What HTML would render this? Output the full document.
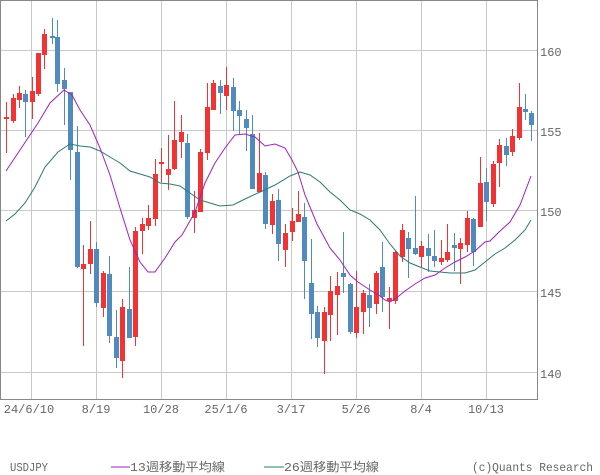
<!DOCTYPE html>
<html><head><meta charset="utf-8"><style>
body{margin:0;background:#fff;}
svg{display:block;font-family:"Liberation Mono","Noto Sans CJK JP",monospace;}
</style></head><body>
<svg id="s" width="600" height="475" xmlns="http://www.w3.org/2000/svg">
<rect x="0" y="0" width="600" height="475" fill="#fff"/>
<g id="grid" stroke="#c8c8c8" stroke-width="1"></g>
<rect x="0.5" y="0.5" width="537" height="399" fill="none" stroke="#888" stroke-width="1"/>
<g id="c"></g>
<polyline id="m26" fill="none" stroke="#2a7a70" stroke-width="1"/>
<polyline id="m13" fill="none" stroke="#a020c0" stroke-width="1"/>
<g font-size="12" fill="#666">
<text x="540" y="56">160</text><text x="540" y="136">155</text><text x="540" y="216">150</text><text x="540" y="297">145</text><text x="540" y="378">140</text>
<g text-anchor="middle">
<text x="29" y="413">24/6/10</text><text x="96" y="413">8/19</text><text x="161" y="413">10/28</text><text x="226" y="413">25/1/6</text><text x="291" y="413">3/17</text><text x="356" y="413">5/26</text><text x="421" y="413">8/4</text><text x="486" y="413">10/13</text>
</g>
<text x="10" y="471" textLength="38" lengthAdjust="spacingAndGlyphs">USDJPY</text>
<line x1="111" y1="467" x2="130" y2="467" stroke="#a020c0"/><text x="130" y="471" textLength="95" lengthAdjust="spacingAndGlyphs">13週移動平均線</text>
<line x1="264" y1="467" x2="284" y2="467" stroke="#2a7a70"/><text x="284" y="471" textLength="95" lengthAdjust="spacingAndGlyphs">26週移動平均線</text>
<text x="472" y="471" textLength="121" lengthAdjust="spacingAndGlyphs">(c)Quants Research</text>
</g>
</svg>
<script>
var g=document.getElementById('grid'),h='';
[31,96,161,226,291,356,421,486].forEach(function(x){h+='<line x1="'+(x+.5)+'" y1="0" x2="'+(x+.5)+'" y2="399"/>';});
[50,130,210,291,372].forEach(function(y){h+='<line x1="0" y1="'+(y+.5)+'" x2="537" y2="'+(y+.5)+'"/>';});
g.innerHTML=h;
var d=[[6,'r',117,119,102,153],[12.5,'r',98,121,94,123],[18.5,'r',93,100,86,108],[25,'b',94,102,90,137],[31.5,'r',91,102,77,119],[38,'r',53,94,53,96],[44,'r',34,55,29,69],[51.5,'b',36,37,18,44],[57,'b',37,84,20,92],[64,'b',80,89,68,125],[70,'b',92,150,92,180],[77,'b',152,267,126,268],[83,'r',264,269,245,346],[90,'r',249,264,221,274],[96,'b',249,303,242,307],[103,'r',273,308,271,317],[109,'b',274,336,256,343],[116,'b',337,358,310,368],[122,'r',307,361,299,378],[129,'b',309,338,267,338],[135,'r',231,337,227,346],[142,'r',224,231,218,254],[148,'r',218,226,205,230],[155,'r',174,219,159,226],[161,'r',162,163,148,182],[168,'r',169,175,135,190],[174,'r',140,169,101,170],[181,'r',132,142,115,158],[187,'b',143,217,134,219],[194,'r',210,218,191,233],[200,'r',152,212,149,212],[207,'r',107,153,83,160],[213,'r',83,110,80,110],[220,'b',86,93,80,114],[226,'r',85,96,67,110],[233,'b',87,111,78,131],[239,'b',110,116,101,134],[246,'b',119,128,110,151],[252,'b',134,189,115,189],[259,'r',173,192,133,192],[265,'b',175,224,172,229],[272,'r',201,225,194,234],[278,'b',200,244,189,261],[285,'r',233,250,224,267],[292,'r',221,232,208,241],[298,'r',214,222,191,222],[304,'b',217,261,203,299],[311,'b',283,314,239,339],[317,'b',312,338,306,347],[324,'r',312,341,307,374],[330,'r',291,315,276,341],[337,'r',286,295,272,335],[343,'b',273,277,232,293],[350,'b',284,332,283,334],[356,'r',307,333,271,338],[363,'r',293,312,290,334],[369,'b',295,308,284,327],[376,'r',273,304,271,314],[382,'b',267,297,242,312],[389,'r',298,301,287,329],[395,'r',252,301,250,304],[402,'r',230,257,224,262],[408,'b',238,249,232,278],[415,'b',248,254,196,255],[421,'r',246,257,241,267],[428,'b',248,256,234,272],[434,'b',256,261,230,267],[441,'r',258,262,240,265],[447,'r',252,260,224,262],[454,'b',245,248,233,271],[460,'r',243,249,238,284],[467,'r',218,245,211,252],[473,'b',219,252,218,266],[480,'r',183,227,157,227],[486,'b',182,202,168,221],[493,'r',164,204,161,207],[499,'r',145,163,139,187],[506,'b',146,155,138,166],[512,'r',136,152,129,156],[519,'r',107,138,83,140],[525,'b',109,112,94,120],[531,'b',113,125,111,141]];
var s='';
d.forEach(function(c){var x=Math.round(c[0]),col=c[1]=='r'?'#f33333':'#4f8bbf';
s+='<rect x="'+x+'" y="'+c[4]+'" width="1" height="'+(c[5]-c[4])+'" fill="'+col+'"/>';
s+='<rect x="'+(x-2)+'" y="'+c[2]+'" width="5" height="'+Math.max(2,c[3]-c[2])+'" fill="'+col+'"/>';});
document.getElementById('c').innerHTML=s;
document.getElementById('m13').setAttribute('points','6,171 20,150 38,123 50,103 64,90 72,95 80,110 90,125 100,148 110,175 120,208 130,240 140,262 148,272 155,272 165,258 175,242 182,235 195,212 205,183 215,163 225,148 235,135 245,134 255,137 265,146 275,144 285,148 292,160 298,172 305,195 317,224 330,248 340,260 350,275 358,282 370,290 380,296 385,300 390,302 395,299 405,291 415,284 425,278 435,275 445,268 455,262 465,257 475,251 485,242 490,241 500,231 510,222 520,205 531,176');
document.getElementById('m26').setAttribute('points','6,221 15,214 25,203 35,187 45,167 58,152 70,144 80,146 90,147 100,151 110,157 120,163 130,171 140,174 150,177 160,183 170,184 180,186 190,193 200,200 210,203 220,206 233,205 245,199 260,192 275,185 290,176 300,172 310,175 320,182 330,192 340,200 350,210 360,214 370,220 380,230 390,244 400,256 410,263 420,267 430,271 440,272 450,273 465,273 475,270 485,262 495,254 505,248 515,240 525,230 531,220');
</script>
</body></html>
